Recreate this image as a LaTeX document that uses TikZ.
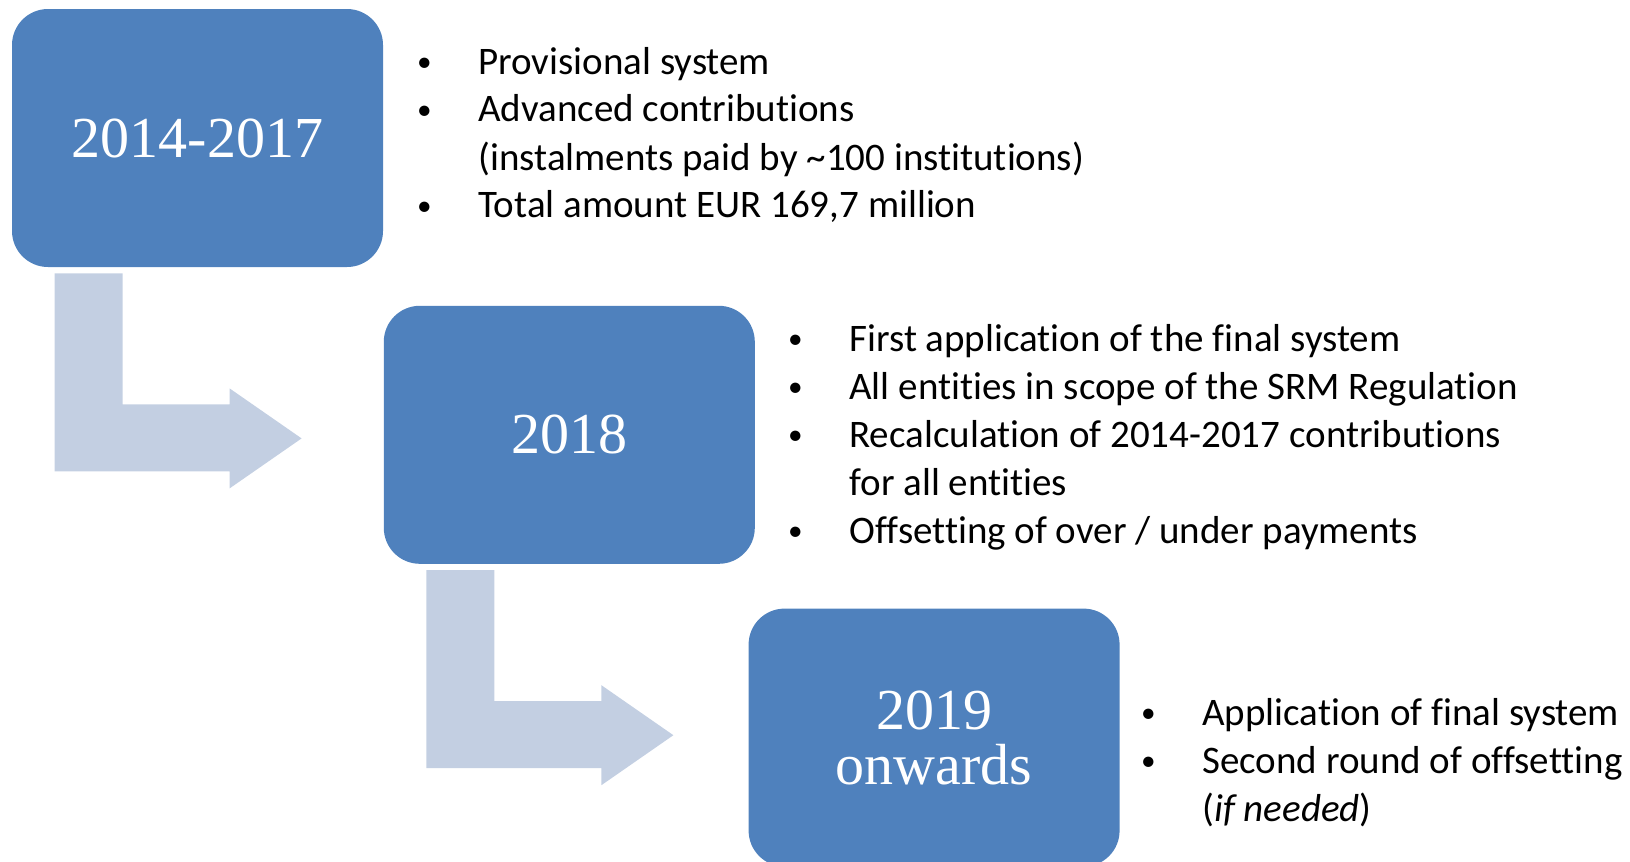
\documentclass[tikz,border=0pt]{standalone}
\usepackage{fontspec}
\usepackage{graphicx}
\setmainfont{Carlito}[Ligatures=NoCommon]
\newfontfamily\yearfont{Liberation Serif}
\usetikzlibrary{positioning}
\definecolor{yearblue}{HTML}{4F81BD}
\definecolor{bendgrey}{HTML}{C3CFE2}
\newcommand{\bul}{\makebox[0pt]{\raisebox{0.07em}{\scalebox{0.75}{\textbullet}}}}

\begin{document}
\begin{tikzpicture}[
	x=0.5pt, y=-0.5pt,
	year/.style={fill=yearblue, rounded corners=18pt, minimum width=185.5pt, minimum height=129pt, inner sep=0pt, text=white, align=center, font=\yearfont\fontsize{29}{27.5}\selectfont},
	bendarrow/.style={fill=bendgrey},
	points/.style={anchor=base west, inner sep=0pt, font=\fontsize{19.5}{24}\selectfont}
	]
	\useasboundingbox (0,0) rectangle (1630,862);

	% Year boxes
	\node[year] (y1) at (197.5,138) {2014-2017};
	\node[year, below right=19pt and 0pt of y1.south east, anchor=north west] (y2) {2018};
	\node[year, below right=22pt and -3.5pt of y2.south east, anchor=north west] (y3) {2019\\onwards};

	% Bent arrows
	\foreach \b in {y1,y2}
		\fill[bendarrow] ([shift={(43,6)}]\b.south west) -- ++(68,0) -- ++(0,131) -- ++(107,0) -- ++(0,-16)
			-- ++(72,50) -- ++(-72,50) -- ++(0,-17) -- ++(-175,0) -- cycle;

	% Bullet lists
	\node[points] (p1) at (424,74) {\begin{tabular}[t]{@{}p{27pt}@{}l@{}}
		\bul & Provisional system\\
		\bul & Advanced contributions\\
		     & (instalments paid by \textasciitilde100 institutions)\\
		\bul & Total amount EUR 169,7 million
	\end{tabular}};
	\node[points] (p2) at (795,351) {\begin{tabular}[t]{@{}p{27pt}@{}l@{}}
		\bul & First application of the final system\\
		\bul & All entities in scope of the SRM Regulation\\
		\bul & Recalculation of 2014-2017 contributions\\
		     & for all entities\\
		\bul & Offsetting of over / under payments
	\end{tabular}};
	\node[points] (p3) at (1148,725) {\begin{tabular}[t]{@{}p{27pt}@{}l@{}}
		\bul & Application of final system\\
		\bul & Second round of offsetting\\
		     & (\textit{if needed})
	\end{tabular}};
\end{tikzpicture}
\end{document}
